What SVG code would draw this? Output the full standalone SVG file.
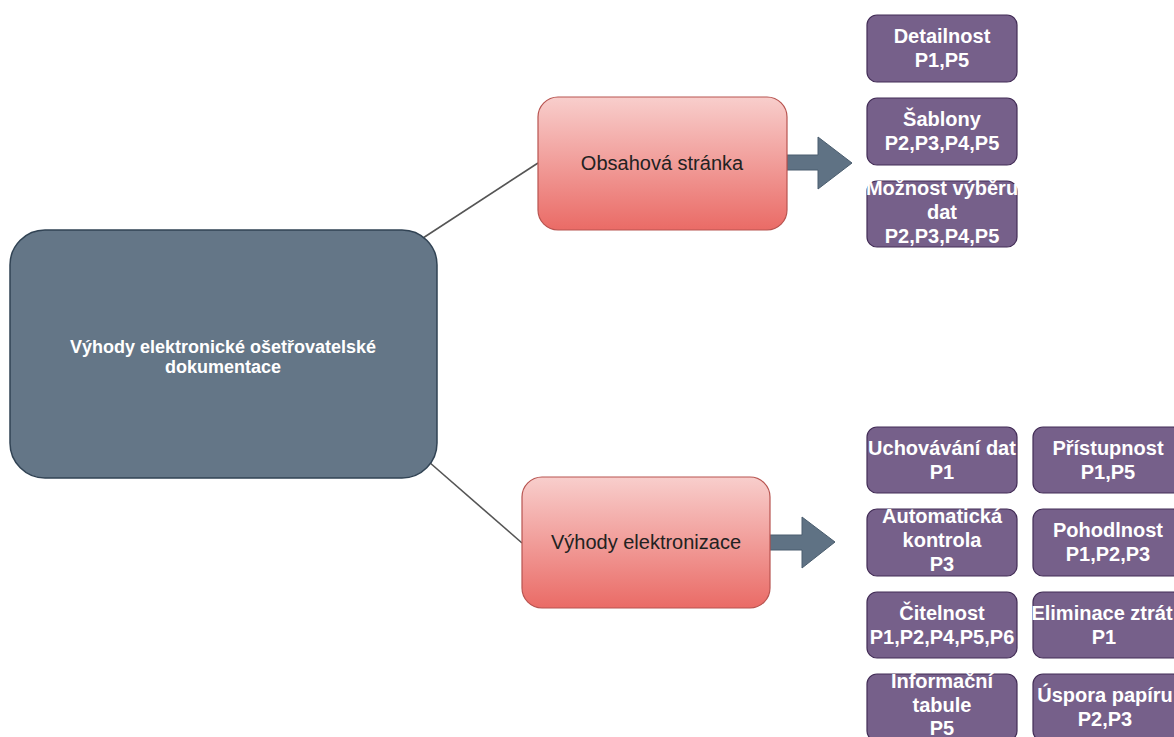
<svg xmlns="http://www.w3.org/2000/svg" width="1174" height="737" viewBox="0 0 1174 737">
<defs>
<linearGradient id="pink" x1="0" y1="0" x2="0" y2="1">
<stop offset="0" stop-color="#f8cecc"/>
<stop offset="1" stop-color="#ea6b66"/>
</linearGradient>
<style>
.main{fill:#647687;stroke:#314354;stroke-width:1.5}
.pink{fill:url(#pink);stroke:#b85450;stroke-width:1.2}
.purple{fill:#76608a;stroke:#432d57;stroke-width:1.2}
.arrow{fill:#5f7284;stroke:#4a5d6e;stroke-width:1}
.conn{stroke:#555;stroke-width:1.6;fill:none}
text{font-family:"Liberation Sans",Arial,sans-serif;text-anchor:middle}
.tm{font-size:18px;font-weight:bold;fill:#fff}
.tp{font-size:20px;fill:#222}
.tu{font-size:20px;font-weight:bold;fill:#fff}
</style>
</defs>
<rect width="1174" height="737" fill="#fff"/>
<g id="connectors">
<line class="conn" x1="423" y1="238" x2="538" y2="163"/>
<line class="conn" x1="429" y1="462" x2="522" y2="543"/>
<polygon class="arrow" points="787,155 818,155 818,137 852,163 818,189 818,170 787,170"/>
<polygon class="arrow" points="770,535 802,535 802,517 835,542 802,568 802,550 770,550"/>
</g>
<g id="main">
<rect class="main" x="10" y="230" width="427" height="248" rx="35"/>
<text class="tm" x="223" y="353">Výhody elektronické ošetřovatelské</text>
<text class="tm" x="223" y="373">dokumentace</text>
</g>
<g id="obsah">
<rect class="pink" x="538" y="97" width="249" height="133" rx="20"/>
<text class="tp" x="662" y="170">Obsahová stránka</text>
</g>
<g id="elektronizace">
<rect class="pink" x="522" y="477" width="248" height="131" rx="20"/>
<text class="tp" x="646" y="549">Výhody elektronizace</text>
</g>
<g id="detailnost">
<rect class="purple" x="867" y="15" width="150" height="67" rx="10"/>
<text class="tu" x="942" y="43">Detailnost</text>
<text class="tu" x="942" y="67">P1,P5</text>
</g>
<g id="sablony">
<rect class="purple" x="867" y="98" width="150" height="67" rx="10"/>
<text class="tu" x="942" y="126">Šablony</text>
<text class="tu" x="942" y="150">P2,P3,P4,P5</text>
</g>
<g id="moznost">
<rect class="purple" x="867" y="181" width="150" height="66" rx="10"/>
<text class="tu" x="942" y="195">Možnost výběru</text>
<text class="tu" x="942" y="219">dat</text>
<text class="tu" x="942" y="243">P2,P3,P4,P5</text>
</g>
<g id="uchovavani">
<rect class="purple" x="867" y="427" width="150" height="66" rx="10"/>
<text class="tu" x="942" y="455">Uchovávání dat</text>
<text class="tu" x="942" y="479">P1</text>
</g>
<g id="automaticka">
<rect class="purple" x="867" y="509" width="150" height="67" rx="10"/>
<text class="tu" x="942" y="523">Automatická</text>
<text class="tu" x="942" y="547">kontrola</text>
<text class="tu" x="942" y="571">P3</text>
</g>
<g id="citelnost">
<rect class="purple" x="867" y="592" width="150" height="66" rx="10"/>
<text class="tu" x="942" y="620">Čitelnost</text>
<text class="tu" x="942" y="644">P1,P2,P4,P5,P6</text>
</g>
<g id="informacni">
<rect class="purple" x="867" y="674" width="150" height="67" rx="10"/>
<text class="tu" x="942" y="688">Informační</text>
<text class="tu" x="942" y="712">tabule</text>
<text class="tu" x="942" y="735">P5</text>
</g>
<g id="pristupnost">
<rect class="purple" x="1033" y="427" width="150" height="66" rx="10"/>
<text class="tu" x="1108" y="455">Přístupnost</text>
<text class="tu" x="1108" y="479">P1,P5</text>
</g>
<g id="pohodlnost">
<rect class="purple" x="1033" y="509" width="150" height="67" rx="10"/>
<text class="tu" x="1108" y="537">Pohodlnost</text>
<text class="tu" x="1108" y="561">P1,P2,P3</text>
</g>
<g id="eliminace">
<rect class="purple" x="1033" y="592" width="150" height="66" rx="10"/>
<text class="tu" x="1102" y="620">Eliminace ztrát</text>
<text class="tu" x="1104" y="644">P1</text>
</g>
<g id="uspora">
<rect class="purple" x="1033" y="674" width="150" height="67" rx="10"/>
<text class="tu" x="1105" y="702">Úspora papíru</text>
<text class="tu" x="1105" y="726">P2,P3</text>
</g>
</svg>
